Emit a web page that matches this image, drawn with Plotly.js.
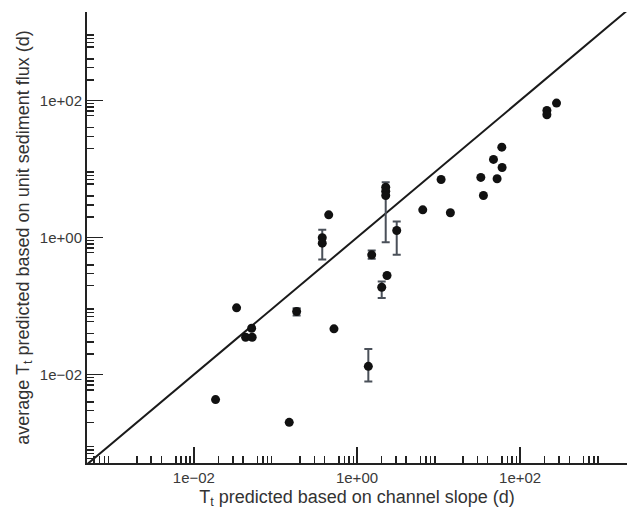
<!DOCTYPE html>
<html>
<head>
<meta charset="utf-8">
<script src="https://cdn.plot.ly/plotly-3.0.1.min.js"></script>
<style>html,body{margin:0;padding:0;background:#fff;}#chart{width:629px;height:518px;}</style>
</head>
<body>
<div id="chart"></div>
<script>
// Points without error bars
const ptsX = [0.01845, 0.0334, 0.0511, 0.0431, 0.0519, 0.1476, 0.375, 0.450, 0.522, 2.333, 2.249, 2.249, 6.40, 10.74, 13.96, 32.96, 35.48, 47.1, 52.2, 59.6, 60.1, 212.8, 212.8, 279.3];
const ptsY = [0.00432, 0.0942, 0.0474, 0.0351, 0.0351, 0.00201, 0.826, 2.14, 0.0465, 0.279, 5.42, 4.10, 2.53, 7.03, 2.30, 7.52, 4.10, 13.77, 7.19, 20.8, 10.52, 71.4, 61.8, 91.4];
// Points with error bars
const errX = [0.182, 0.375, 1.377, 1.514, 2.009, 2.249, 3.069];
const errY = [0.0832, 0.991, 0.0132, 0.559, 0.188, 4.74, 1.265];
const errPlus = [0.0097, 0.303, 0.0105, 0.087, 0.040, 1.67, 0.449];
const errMinus = [0.0105, 0.514, 0.0053, 0.070, 0.057, 3.89, 0.706];
// 1:1 line
const lineX = [1e-4, 1e4];
const lineY = [1e-4, 1e4];
// ticks
const labeledDecades = [1e-2, 1e0, 1e2];
const decadeLabels = ['1e\u221202', '1e+00', '1e+02'];
const unlabeledDecades = [1e-3, 1e-1, 1e1, 1e3];
const allDecades = [1e-3, 1e-2, 1e-1, 1e0, 1e1, 1e2, 1e3];
const fives = [5e-4, 5e-3, 5e-2, 5e-1, 5, 50, 500];
const minorMult = [2, 3, 4, 6, 7, 8, 9];
const decadeStarts = [1e-4, 1e-3, 1e-2, 1e-1, 1, 10, 100, 1000];

const minorVals = [];
decadeStarts.forEach(d => minorMult.forEach(m => minorVals.push(d * m)));

const XR = [-3.31, 3.31];
const YR = [-3.29, 3.29];
const axCol = '#222222';
const fontFam = 'Arial, "Liberation Sans", sans-serif';

const traces = [
  {x: lineX, y: lineY, mode: 'lines', line: {color: '#1a1a1a', width: 2}, hoverinfo: 'skip', showlegend: false},
  {x: errX, y: errY, mode: 'markers', marker: {color: '#111', size: 9},
   error_y: {type: 'data', symmetric: false, array: errPlus, arrayminus: errMinus, color: '#4a5059', thickness: 2, width: 4},
   showlegend: false},
  {x: ptsX, y: ptsY, mode: 'markers', marker: {color: '#111', size: 9}, showlegend: false}
];

const baseAx = {type: 'log', showgrid: false, zeroline: false, fixedrange: true};
function overlayX(anchor, vals, dir, len, w) {
  return Object.assign({}, baseAx, {range: XR, overlaying: 'x', anchor: anchor, side: 'bottom', showline: false,
    tickmode: 'array', tickvals: vals, ticks: dir, ticklen: len, tickwidth: w, tickcolor: axCol, showticklabels: false});
}
function overlayY(anchor, vals, dir, len, w) {
  return Object.assign({}, baseAx, {range: YR, overlaying: 'y', anchor: anchor, side: 'left', showline: false,
    tickmode: 'array', tickvals: vals, ticks: dir, ticklen: len, tickwidth: w, tickcolor: axCol, showticklabels: false});
}

const layout = {
  width: 629, height: 518,
  margin: {l: 87, r: 2, t: 12, b: 55},
  paper_bgcolor: '#fff', plot_bgcolor: '#fff',
  font: {family: fontFam, color: '#333'},
  showlegend: false,
  xaxis: Object.assign({}, baseAx, {
    range: XR, showline: true, linecolor: axCol, linewidth: 2,
    tickmode: 'array', tickvals: labeledDecades, ticktext: decadeLabels,
    ticks: 'inside', ticklen: 16, tickwidth: 1.8, tickcolor: axCol,
    tickfont: {size: 15, color: '#3a3a3a'},
    minor: {tickvals: minorVals, ticks: 'inside', ticklen: 7, tickwidth: 1.5, tickcolor: axCol},
    title: {text: 'T<sub>t</sub> predicted based on channel slope (d)', font: {size: 18, color: '#333'}, standoff: 5}
  }),
  yaxis: Object.assign({}, baseAx, {
    range: YR, showline: true, linecolor: axCol, linewidth: 2,
    tickmode: 'array', tickvals: labeledDecades, ticktext: decadeLabels,
    ticks: 'inside', ticklen: 16, tickwidth: 1.8, tickcolor: axCol,
    tickfont: {size: 15, color: '#3a3a3a'},
    minor: {tickvals: minorVals, ticks: 'inside', ticklen: 7, tickwidth: 1.5, tickcolor: axCol},
    title: {text: 'average T<sub>t</sub> predicted based on unit sediment flux (d)', font: {size: 18, color: '#333'}, standoff: 6}
  }),
  xaxis2: overlayX('y2', fives, 'inside', 11, 1.5),
  yaxis2: overlayY('x2', fives, 'inside', 11, 1.5),
  xaxis3: overlayX('y3', unlabeledDecades, 'inside', 16, 1.8),
  yaxis3: overlayY('x3', unlabeledDecades, 'inside', 16, 1.8),
  xaxis4: overlayX('y4', allDecades, 'outside', 4, 1.8),
  yaxis4: overlayY('x4', allDecades, 'outside', 4, 1.8)
};

Plotly.newPlot('chart', traces, layout, {staticPlot: true, displayModeBar: false});
</script>
</body>
</html>
